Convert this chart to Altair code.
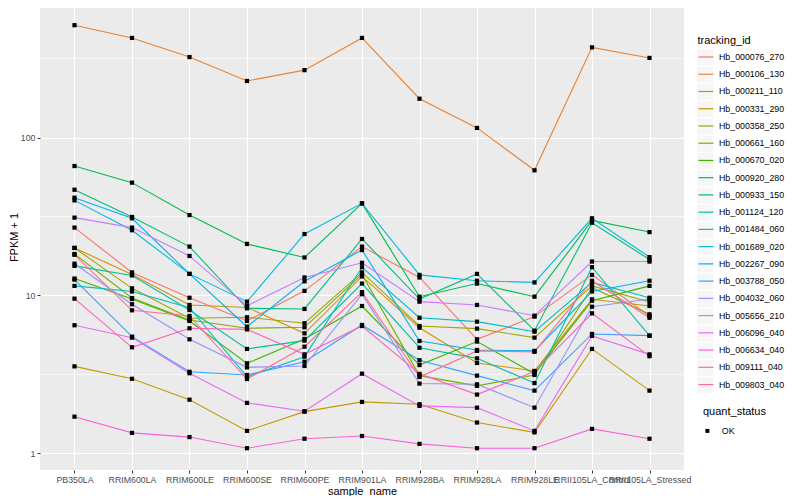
import altair as alt
import pandas as pd

samples = ["PB350LA", "RRIM600LA", "RRIM600LE", "RRIM600SE", "RRIM600PE", "RRIM901LA",
           "RRIM928BA", "RRIM928LA", "RRIM928LE", "RRII105LA_Control", "RRII105LA_Stressed"]

ids = ["Hb_000076_270", "Hb_000106_130", "Hb_000211_110", "Hb_000331_290", "Hb_000358_250",
       "Hb_000661_160", "Hb_000670_020", "Hb_000920_280", "Hb_000933_150", "Hb_001124_120",
       "Hb_001484_060", "Hb_001689_020", "Hb_002267_090", "Hb_003788_050", "Hb_004032_060",
       "Hb_005656_210", "Hb_006096_040", "Hb_006634_040", "Hb_009111_040", "Hb_009803_040"]

palette = ["#F8766D", "#EA8331", "#D89000", "#C09B00", "#A3A500", "#7CAE00", "#39B600",
           "#00BB4E", "#00BF7D", "#00C1A3", "#00BFC4", "#00BAE0", "#00B0F6", "#35A2FF",
           "#9590FF", "#C77CFF", "#E76BF3", "#FA62DB", "#FF62BC", "#FF6C91"]

hb_000076_270 = [26.9, 14.0, 9.68, 6.9, 10.7, 20.4, 13.0, 5.28, 7.35, 13.5, 7.42]
hb_000106_130 = [514, 427, 323, 228, 267, 427, 176, 115, 62, 372, 319]
hb_000211_110 = [20.0, 13.6, 8.71, 8.4, 5.76, 13.2, 6.25, 3.74, 3.33, 9.46, 8.58]
hb_000331_290 = [3.56, 2.97, 2.19, 1.39, 1.84, 2.12, 2.05, 1.57, 1.36, 4.59, 2.50]
hb_000358_250 = [20.0, 11.1, 7.17, 7.28, 6.67, 14.0, 6.41, 6.17, 5.41, 11.5, 9.10]
hb_000661_160 = [18.3, 9.64, 7.0, 6.2, 6.29, 13.6, 3.11, 2.68, 3.14, 11.2, 7.60]
hb_000670_020 = [12.8, 9.5, 6.9, 3.72, 5.31, 8.58, 3.63, 5.11, 3.2, 9.27, 11.5]
hb_000920_280 = [66.0, 51.8, 32.3, 21.2, 17.4, 38.3, 9.83, 11.9, 9.83, 29.9, 25.2]
hb_000933_150 = [46.7, 31.4, 20.4, 8.30, 8.22, 22.8, 9.5, 13.7, 5.99, 28.9, 16.9]
hb_001124_120 = [15.4, 13.4, 8.09, 4.59, 5.18, 11.9, 4.67, 4.0, 2.79, 15.1, 5.57]
hb_001484_060 = [11.5, 10.6, 8.38, 3.06, 4.10, 15.1, 7.23, 6.83, 5.90, 12.1, 9.68]
hb_001689_020 = [40.0, 25.9, 13.7, 9.14, 24.5, 38.3, 13.5, 12.4, 12.1, 30.8, 17.5]
hb_002267_090 = [41.6, 30.8, 13.7, 6.35, 12.3, 19.4, 5.15, 4.52, 4.46, 10.6, 12.4]
hb_003788_050 = [12.6, 5.49, 3.29, 3.14, 3.81, 6.51, 3.89, 3.11, 2.50, 5.71, 5.57]
hb_004032_060 = [15.9, 8.8, 5.28, 3.51, 3.58, 10.2, 2.77, 2.74, 1.95, 8.49, 9.5]
hb_005656_210 = [31.1, 26.9, 17.8, 8.6, 13.0, 16.1, 9.14, 8.71, 7.45, 16.4, 16.4]
hb_006096_040 = [6.48, 5.41, 3.22, 2.09, 1.85, 3.20, 2.0, 1.95, 1.39, 5.55, 4.24]
hb_006634_040 = [1.71, 1.35, 1.27, 1.08, 1.24, 1.29, 1.15, 1.08, 1.08, 1.43, 1.24]
hb_009111_040 = [9.55, 4.70, 6.2, 6.1, 4.24, 6.41, 3.19, 2.36, 3.30, 7.71, 4.13]
hb_009803_040 = [18.1, 8.06, 7.42, 2.96, 4.74, 10.5, 3.05, 4.46, 4.4, 12.4, 7.23]

series = [hb_000076_270, hb_000106_130, hb_000211_110, hb_000331_290, hb_000358_250,
          hb_000661_160, hb_000670_020, hb_000920_280, hb_000933_150, hb_001124_120,
          hb_001484_060, hb_001689_020, hb_002267_090, hb_003788_050, hb_004032_060,
          hb_005656_210, hb_006096_040, hb_006634_040, hb_009111_040, hb_009803_040]

status = ["OK"]
minor_breaks = [3.1623, 31.623, 316.23]
major_breaks = [1, 10, 100]

rows = []
for tid, vals in zip(ids, series):
    for s, v in zip(samples, vals):
        rows.append({"sample_name": s, "tracking_id": tid, "fpkm": v, "quant_status": status[0]})
df = pd.DataFrame(rows)

FONT = "Liberation Sans"

x_enc = alt.X("sample_name:N", sort=samples,
              scale=alt.Scale(type="point", domain=samples, padding=0.6),
              axis=alt.Axis(title="sample_name", labelAngle=0, labelOverlap=False,
                            labelBound=False, grid=True, gridColor="white", gridWidth=1.1,
                            tickSize=3, labelPadding=2, titlePadding=2))
y_enc = alt.Y("fpkm:Q",
              scale=alt.Scale(type="log", domain=[0.786, 700], nice=False),
              axis=alt.Axis(title="FPKM + 1", values=major_breaks, format="d",
                            grid=True, gridColor="white", gridWidth=1.1,
                            tickSize=3, labelPadding=2, titlePadding=1))

minor = alt.Chart(pd.DataFrame({"fpkm": minor_breaks})).mark_rule(
    color="white", strokeWidth=0.6).encode(y=alt.Y("fpkm:Q"))

# grey legend key backgrounds (ggplot style), built from the same id domain
key_boxes = alt.Chart(df).transform_filter("datum.fpkm < 0").mark_square().encode(
    x=x_enc, y=y_enc,
    fill=alt.Fill("tracking_id:N",
                  scale=alt.Scale(domain=ids, range=["#F2F2F2"] * len(ids)),
                  legend=alt.Legend(orient="none", legendX=657, legendY=45.3,
                                    title=None, labelExpr="''", symbolType="square",
                                    symbolSize=256, symbolStrokeWidth=0,
                                    rowPadding=1.27, zindex=0)))

status_box = alt.Chart(df).transform_filter("datum.fpkm < 0").mark_square(
    color="#F2F2F2", filled=True).encode(
    x=x_enc, y=y_enc,
    size=alt.Size("quant_status:O", scale=alt.Scale(domain=status, range=[256]),
                  legend=alt.Legend(orient="none", legendX=657, legendY=417,
                                    title=None, labelExpr="''", symbolType="square",
                                    symbolFillColor="#F2F2F2", symbolStrokeWidth=0,
                                    zindex=0)))

lines = alt.Chart(df).mark_line(strokeWidth=1.1).encode(
    x=x_enc, y=y_enc,
    color=alt.Color("tracking_id:N", scale=alt.Scale(domain=ids, range=palette),
                    legend=alt.Legend(orient="none", legendX=657.5, legendY=31,
                                      title="tracking_id", symbolType="stroke",
                                      symbolSize=225, symbolStrokeWidth=1.2,
                                      rowPadding=3.24, titlePadding=2.5, labelOffset=4.5,
                                      zindex=2)),
    detail="tracking_id:N")

points = alt.Chart(df).mark_point(shape="square", filled=True, size=18, color="black",
                                  opacity=1).encode(
    x=x_enc, y=y_enc,
    shape=alt.Shape("quant_status:N", scale=alt.Scale(domain=status, range=["square"]),
                    legend=alt.Legend(orient="none", legendX=663, legendY=401.5,
                                      title="quant_status", symbolFillColor="black",
                                      symbolSize=16, titlePadding=10, labelOffset=10,
                                      zindex=2)))

chart = alt.layer(minor, key_boxes, status_box, lines, points).resolve_scale(
    color="independent", fill="independent", shape="independent", size="independent"
).properties(
    width=644, height=466,
    autosize=alt.AutoSizeParams(type="none"),
    padding={"left": 32, "top": -4, "right": 108, "bottom": 26},
).configure_view(
    fill="#EBEBEB", stroke=None
).configure_axis(
    domain=False, tickColor="#333333", labelColor="#4D4D4D", labelFont=FONT,
    labelFontSize=8.8, titleFont=FONT, titleFontSize=11, titleFontWeight="normal",
    titleColor="black"
).configure_legend(
    titleFont=FONT, titleFontSize=11, titleFontWeight="normal", titleColor="black",
    labelFont=FONT, labelFontSize=8.8, labelColor="black"
)

chart.save("out.html", embed_options={"renderer": "svg", "actions": False})
